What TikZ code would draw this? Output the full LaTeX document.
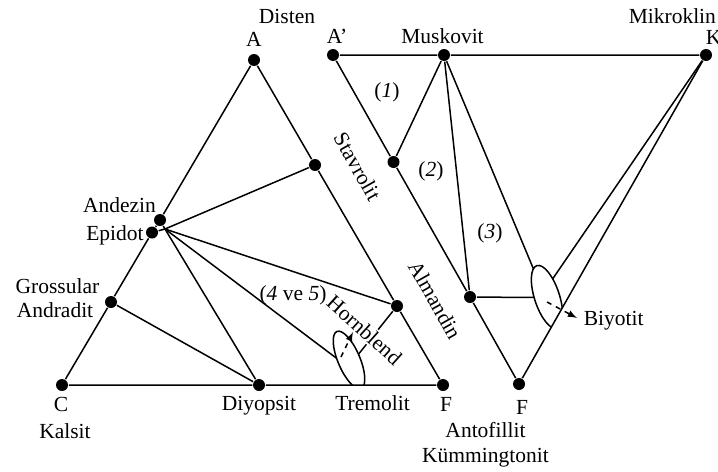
\documentclass[tikz,border=0pt]{standalone}
\usepackage{fontspec}
\setmainfont{Liberation Serif}
\begin{document}
\begin{tikzpicture}[x = 0.6pt, y = 0.6pt, line width = 0.9pt,
    font = \fontsize{12.9}{15}\selectfont,
    dot/.style = {circle, fill, inner sep = 0pt, minimum size = 7.2pt},
    lbl/.style = {anchor = base, inner sep = 0pt}]
    \useasboundingbox (0,0) rectangle (718,471);

    \node[dot] (a) at (254,411) {};
    \node[dot] (c) at (62,86) {};
    \node[dot] (f) at (443,86) {};
    \node[dot] (andz) at (160,251) {};
    \node[dot] (epid) at (152,238.5) {};
    \node[dot] (gros) at (111,169) {};
    \node[dot] (diyo) at (259,86) {};
    \node[dot] (afu) at (315,306) {};
    \node[dot] (hbl) at (397,165) {};
    \coordinate (jn) at (165,242);
    \coordinate (tre) at (336.6,112.7);
    \coordinate (hbe) at (358.5,116.8);
    \coordinate (hbs) at (341,114);
    \coordinate (hbt) at (353,139);

    \node[dot] (ap) at (333,416) {};
    \node[dot] (musk) at (444,416) {};
    \node[dot] (kmik) at (706,416) {};
    \node[dot] (fp) at (519,87) {};
    \node[dot] (stv) at (393.5,309) {};
    \node[dot] (alm) at (470,174) {};
    \coordinate (bm) at (533.4,202.2);
    \coordinate (bk) at (552.7,192.2);
    \coordinate (ba) at (534.3,173.5);
    \coordinate (bs) at (547,169);
    \coordinate (bt) at (577,153);

    \draw (a) -- (andz) -- (epid) -- (gros) -- (c) -- (diyo) -- (f) -- (hbl) -- (afu) -- (a);
    \draw (andz) -- (jn) -- (epid);
    \draw (jn) -- (afu);
    \draw (jn) -- (hbl);
    \draw (jn) -- (tre);
    \draw (jn) -- (diyo);
    \draw (gros) -- (diyo);
    \draw (hbl) -- (hbe);
    \begin{scope}
    \clip (0,86) rectangle (718,471);
    \draw[rotate around = {113:(349,111)}] (349,111) ellipse [x radius = 31, y radius = 11];
    \end{scope}
    \draw[dashed, -latex] (hbs) -- (hbt);

    \draw (ap) -- (musk) -- (kmik) -- (fp) -- (alm) -- (stv) -- (ap);
    \draw (musk) -- (stv);
    \draw (musk) -- (alm);
    \draw (musk) -- (bm);
    \draw (kmik) -- (bk);
    \draw (alm) -- (ba);
    \begin{scope}
    \clip (300,-100) -- (425.5,-77.5) -- (799.5,580.5) -- (300,580) -- cycle;
    \draw[rotate around = {108:(547,174)}] (547,174) ellipse [x radius = 33, y radius = 12.5];
    \end{scope}
    \draw[dashed, -latex] (bs) -- (bt);

    \node[lbl] (disten) at (287,447.5) {Disten};
    \node[lbl] (alab) at (254,425) {A};
    \node[lbl] (aplab) at (337,427) {A’};
    \node[lbl] (musklab) at (442.5,427) {Muskovit};
    \node[lbl, anchor = base west] (mikro) at (628,447) {Mikroklin};
    \node[lbl, anchor = base west] (klab) at (705,426) {K};
    \node[lbl] (one) at (387,374) {(\textit{1})};
    \node[lbl] (two) at (431,295) {(\textit{2})};
    \node[lbl] (three) at (490,233) {(\textit{3})};
    \node[rotate = -60.5] (stavlab) at (357.5,304.5) {Stavrolit};
    \node[rotate = -60.5] (almlab) at (435,171) {Almandin};
    \node[rotate = -42, fill = white, inner sep = 1pt] (hbllab) at (364.5,141) {Hornblend};
    \node[lbl] (fourfive) at (293,171) {(\textit{4} ve \textit{5})};
    \node[lbl] (andzlab) at (119.5,258.3) {Andezin};
    \node[lbl] (epidlab) at (115,231) {Epidot};
    \node[lbl] (groslab) at (57.5,177.7) {Grossular};
    \node[lbl] (andrlab) at (55,153.3) {Andradit};
    \node[lbl] (clab) at (61,59.3) {C};
    \node[lbl] (kalsit) at (65,32.7) {Kalsit};
    \node[lbl] (diyolab) at (259,60.3) {Diyopsit};
    \node[lbl] (tremlab) at (372.5,61) {Tremolit};
    \node[lbl] (flab) at (446,59.3) {F};
    \node[lbl] (fplab) at (522,57) {F};
    \node[lbl] (anto) at (485.5,33.3) {Antofillit};
    \node[lbl] (kumm) at (485.5,9) {Kümmingtonit};
    \node[lbl, anchor = base west] (biyo) at (583,146) {Biyotit};
\end{tikzpicture}
\end{document}
